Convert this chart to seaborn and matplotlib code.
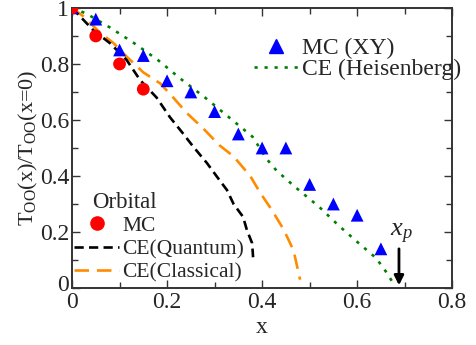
import numpy as np
import pandas as pd
import seaborn as sns
import matplotlib.pyplot as plt
import matplotlib.transforms as mtransforms
from matplotlib.lines import Line2D
from matplotlib.ticker import MultipleLocator

# Orbital MC points
mc_orb_x = [0.0, 0.05, 0.10, 0.15]
mc_orb_y = [1.0, 0.90, 0.80, 0.71]

# MC (XY) points
mc_xy_x = [0.0, 0.05, 0.10, 0.15, 0.20, 0.25, 0.30, 0.35, 0.40, 0.45, 0.50, 0.55, 0.60, 0.65]
mc_xy_y = [1.0, 0.96, 0.85, 0.83, 0.74, 0.70, 0.63, 0.55, 0.50, 0.50, 0.37, 0.30, 0.26, 0.14]

# CE (Heisenberg)
heis_x = [0.0, 0.03, 0.08, 0.13, 0.18, 0.23, 0.28, 0.33, 0.38, 0.41, 0.43, 0.47, 0.52, 0.56, 0.60, 0.64, 0.66, 0.675]
heis_y = [1.0, 0.98, 0.93, 0.875, 0.815, 0.745, 0.68, 0.61, 0.54, 0.46, 0.42, 0.36, 0.29, 0.225, 0.165, 0.107, 0.06, 0.02]

# CE (Classical)
clas_x = [0.0, 0.024, 0.06, 0.087, 0.115, 0.15, 0.186, 0.213, 0.242, 0.276, 0.31, 0.34, 0.375, 0.396, 0.42, 0.445, 0.466, 0.48]
clas_y = [1.0, 0.97, 0.91, 0.875, 0.826, 0.77, 0.73, 0.68, 0.624, 0.57, 0.51, 0.47, 0.40, 0.34, 0.28, 0.21, 0.135, 0.03]

# CE (Quantum)
quan_x = [0.0, 0.045, 0.08, 0.115, 0.143, 0.178, 0.206, 0.233, 0.255, 0.284, 0.31, 0.326, 0.34, 0.36, 0.368, 0.379, 0.381]
quan_y = [1.0, 0.92, 0.874, 0.814, 0.743, 0.68, 0.61, 0.553, 0.505, 0.446, 0.386, 0.35, 0.30, 0.254, 0.207, 0.16, 0.11]

x_ticks = [0, 0.2, 0.4, 0.6, 0.8]
x_ticklabels = ['0', '0.2', '0.4', '0.6', '0.8']
y_ticks = [0, 0.2, 0.4, 0.6, 0.8, 1.0]
y_ticklabels = ['0', '0.2', '0.4', '0.6', '0.8', '1']

x_p = 0.688

sns.set_style("ticks")
plt.rcParams['font.family'] = ['Liberation Serif', 'DejaVu Serif']
plt.rcParams['mathtext.fontset'] = 'custom'
plt.rcParams['mathtext.rm'] = 'Liberation Serif'
plt.rcParams['mathtext.it'] = 'Liberation Serif:italic'

fig = plt.figure(figsize=(4.77, 3.45), dpi=100)
ax = fig.add_axes([0.151, 0.165, 0.797, 0.812])

lw = 1.9
heis_ls = (0, (1.2, 2.6))
clas_ls = (0, (5.5, 3.0))
quan_ls = (0, (3.5, 2.0))
sns.lineplot(x=heis_x, y=heis_y, ax=ax, color='#008000', lw=lw, sort=False, linestyle=heis_ls)
sns.lineplot(x=clas_x, y=clas_y, ax=ax, color='#ff8c00', lw=lw, sort=False, linestyle=clas_ls)
sns.lineplot(x=quan_x, y=quan_y, ax=ax, color='black', lw=lw, sort=False, linestyle=quan_ls)
sns.scatterplot(x=mc_xy_x, y=mc_xy_y, ax=ax, marker='^', color='#0000ff', s=85,
                edgecolor='none', zorder=4)
sns.scatterplot(x=mc_orb_x, y=mc_orb_y, ax=ax, marker='o', color='#ff0000', s=85,
                edgecolor='none', zorder=5)

ax.set_xlim(0, 0.8)
ax.set_ylim(0, 1)
ax.set_xticks(x_ticks)
ax.set_xticklabels(x_ticklabels)
ax.set_yticks(y_ticks)
ax.set_yticklabels(y_ticklabels)
ax.xaxis.set_minor_locator(MultipleLocator(0.1))
ax.yaxis.set_minor_locator(MultipleLocator(0.1))
ax.tick_params(which='both', direction='in', top=True, right=True, labelsize=17,
               width=1.0, color='#333333')
ax.tick_params(axis='x', pad=3)
ax.tick_params(axis='y', pad=2)
ax.tick_params(which='major', length=6)
ax.tick_params(which='minor', length=4)
for s in ax.spines.values():
    s.set_linewidth(1.4)
    s.set_color('#333333')

# lift the y "0" a little so it does not sit on the x "0"
lbl0 = ax.get_yticklabels()[0]
lbl0.set_transform(lbl0.get_transform() +
                   mtransforms.ScaledTranslation(0, 4 / 72, fig.dpi_scale_trans))

ax.set_xlabel('x', fontsize=17, labelpad=3)
ax.set_ylabel(r'T$_{\rm OO}$(x)/T$_{\rm OO}$(x=0)', fontsize=16, labelpad=0)

# x_p arrow
ax.annotate('', xy=(x_p, 0.0), xytext=(x_p, 0.15),
            arrowprops=dict(arrowstyle='-|>', color='black', lw=2, mutation_scale=14))
ax.text(x_p + 0.005, 0.15, r'$x_p$', fontsize=19, ha='center', va='bottom')

# legends
h1 = [Line2D([], [], marker='^', color='#0000ff', ls='none', markersize=9.5),
      Line2D([], [], color='#008000', lw=lw, linestyle=heis_ls)]
leg1 = ax.legend(h1, ['MC (XY)', 'CE (Heisenberg)'], loc='upper left',
                 bbox_to_anchor=(0.478, 0.895), frameon=False, fontsize=17,
                 borderpad=0, borderaxespad=0, handlelength=1.9,
                 handletextpad=0.15, labelspacing=0.0)
ax.add_artist(leg1)

h2 = [Line2D([], [], marker='o', color='#ff0000', ls='none', markersize=9.5),
      Line2D([], [], color='black', lw=lw, linestyle=quan_ls),
      Line2D([], [], color='#ff8c00', lw=lw, linestyle=clas_ls)]
ax.legend(h2, ['MC', 'CE(Quantum)', 'CE(Classical)'], loc='lower left',
          bbox_to_anchor=(0.005, 0.02), frameon=False, fontsize=15.5,
          borderpad=0, borderaxespad=0, handlelength=2.1,
          handletextpad=0.15, labelspacing=0.15)
ax.text(0.042, 0.305, 'Orbital', fontsize=16.5, ha='left', va='center')

plt.savefig('out.png', dpi=100)
